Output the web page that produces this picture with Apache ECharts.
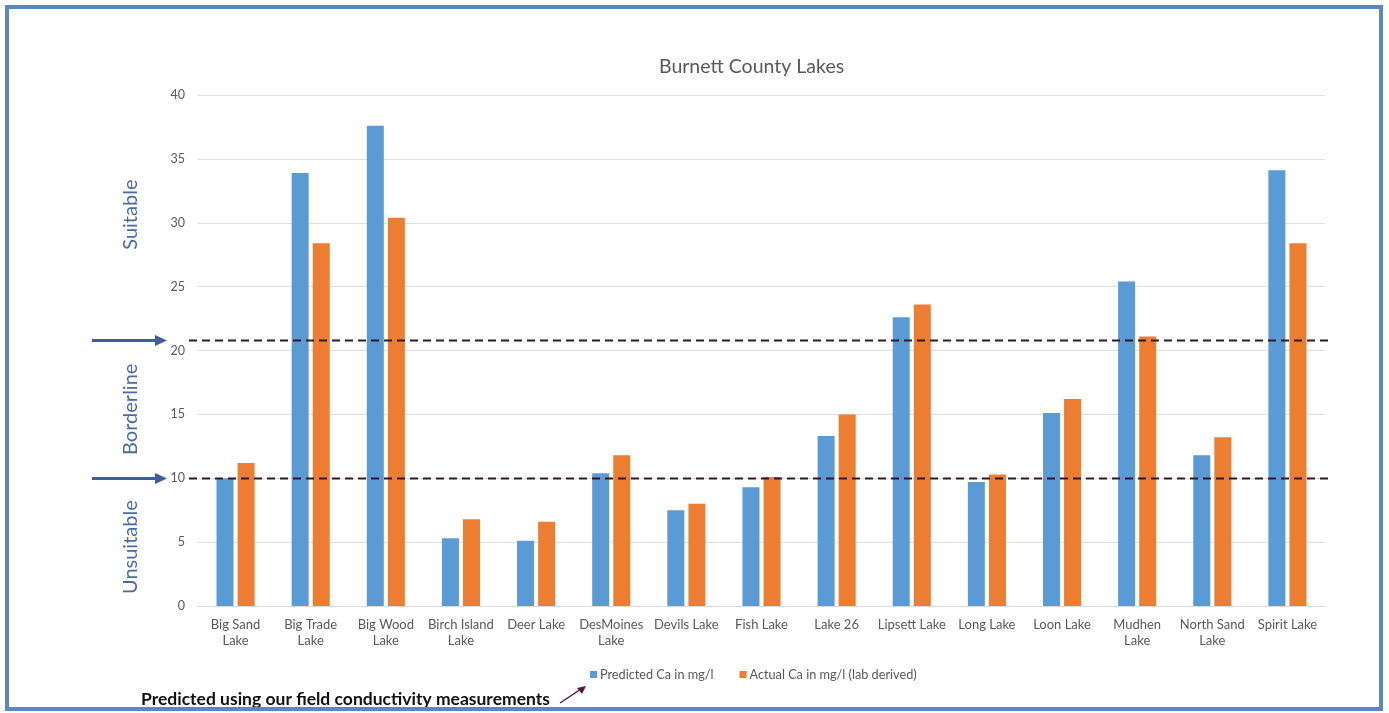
<!DOCTYPE html>
<html>
<head>
<meta charset="utf-8">
<title>Burnett County Lakes</title>
<script src="https://cdn.jsdelivr.net/npm/echarts@6/dist/echarts.min.js"></script>
<style>
  html, body { margin: 0; padding: 0; background: #ffffff; }
  #chart { width: 1389px; height: 713px; }
</style>
</head>
<body>
<div id="chart"></div>
<script>
// Lake names (line breaks where the axis label wraps)
const lakes = [
  'Big Sand\nLake', 'Big Trade\nLake', 'Big Wood\nLake', 'Birch Island\nLake',
  'Deer Lake', 'DesMoines\nLake', 'Devils Lake', 'Fish Lake', 'Lake 26',
  'Lipsett Lake', 'Long Lake', 'Loon Lake', 'Mudhen\nLake', 'North Sand\nLake',
  'Spirit Lake'
];

// Calcium, mg/l
const predictedCa = [10.0, 33.9, 37.6, 5.3, 5.1, 10.4, 7.5, 9.3, 13.3, 22.6, 9.7, 15.1, 25.4, 11.8, 34.1];
const actualCa    = [11.2, 28.4, 30.4, 6.8, 6.6, 11.8, 8.0, 10.1, 15.0, 23.6, 10.3, 16.2, 21.1, 13.2, 28.4];

const seriesNames = ['Predicted Ca in mg/l', 'Actual Ca in mg/l (lab derived)'];

// Suitability thresholds (mg/l) and the band names between them
const thresholds = [10, 20.8];
const bandNames = ['Unsuitable', 'Borderline', 'Suitable'];

const yTicks = { min: 0, max: 40, interval: 5 };

const FONT = 'Lato, "Open Sans", sans-serif';
const GREY = '#595959';
const BLUE = '#5b9bd5';
const ORANGE = '#ed7d31';
const BAND_COLOR = '#4a6aa5';
const ARROW_COLOR = '#3e5f9c';
const DASH_COLOR = '#33172c';

const chart = echarts.init(document.getElementById('chart'), null, { renderer: 'canvas' });

chart.setOption({
  animation: false,
  backgroundColor: '#ffffff',
  textStyle: { fontFamily: FONT },
  title: {
    text: 'Burnett County Lakes',
    left: 654,
    top: 52,
    textStyle: { fontFamily: FONT, fontSize: 19.5, fontWeight: 'normal', color: GREY }
  },
  legend: {
    data: seriesNames,
    left: 585,
    top: 663,
    icon: 'rect',
    itemWidth: 7,
    itemHeight: 7,
    itemGap: 26,
    textStyle: { fontFamily: FONT, fontSize: 12.7, color: GREY, padding: [0, 0, 0, -2] }
  },
  grid: { left: 198, right: 64, top: 95, bottom: 107, containLabel: false },
  xAxis: {
    type: 'category',
    data: lakes,
    axisLine: { lineStyle: { color: '#d9d9d9', width: 1 } },
    axisTick: { show: false },
    axisLabel: {
      interval: 0,
      margin: 11,
      fontFamily: FONT,
      fontSize: 13,
      lineHeight: 16,
      color: GREY
    }
  },
  yAxis: {
    type: 'value',
    min: yTicks.min,
    max: yTicks.max,
    interval: yTicks.interval,
    axisLine: { show: false },
    axisTick: { show: false },
    axisLabel: { fontFamily: FONT, fontSize: 12.5, color: GREY, margin: 13 },
    splitLine: { lineStyle: { color: '#e0e0e0', width: 1 } }
  },
  series: [
    {
      name: seriesNames[0],
      type: 'bar',
      data: predictedCa,
      barWidth: 17,
      barGap: '24%',
      itemStyle: { color: BLUE }
    },
    {
      name: seriesNames[1],
      type: 'bar',
      data: actualCa,
      barWidth: 17,
      barGap: '24%',
      itemStyle: { color: ORANGE }
    }
  ]
});

// Threshold lines, arrows, band names and the footnote, placed through the axes
function drawOverlay() {
  const yOf = v => chart.convertToPixel({ yAxisIndex: 0 }, v);
  const y0 = yOf(yTicks.min);
  const yTop = yOf(yTicks.max);
  const yLow = yOf(thresholds[0]);
  const yHigh = yOf(thresholds[1]);

  const elements = [];

  // dashed threshold lines
  thresholds.forEach(t => {
    const y = Math.round(yOf(t)) + 0.5;
    elements.push({
      type: 'line',
      shape: { x1: 189, y1: y, x2: 1329, y2: y },
      style: { stroke: DASH_COLOR, lineWidth: 2, lineDash: [8, 5] },
      z: 10
    });
  });

  // arrows pointing at the thresholds
  thresholds.forEach(t => {
    const y = Math.round(yOf(t)) + 0.5;
    elements.push({
      type: 'line',
      shape: { x1: 92, y1: y, x2: 157, y2: y },
      style: { stroke: ARROW_COLOR, lineWidth: 3 },
      z: 10
    });
    elements.push({
      type: 'polygon',
      shape: { points: [[155, y - 5.5], [167, y], [155, y + 5.5]] },
      style: { fill: ARROW_COLOR },
      z: 10
    });
  });

  // band names, rotated
  const bandCenters = [(y0 + yLow) / 2 + 5, (yLow + yHigh) / 2, (yHigh + yTop) / 2 - 3];
  bandNames.forEach((name, i) => {
    elements.push({
      type: 'text',
      x: 131,
      y: bandCenters[i],
      rotation: Math.PI / 2,
      style: {
        text: name,
        fontFamily: FONT,
        fontSize: 20,
        fill: BAND_COLOR,
        align: 'center',
        verticalAlign: 'middle'
      },
      z: 10
    });
  });

  // footnote about the predicted series
  elements.push({
    type: 'text',
    x: 141,
    y: 699,
    style: {
      text: 'Predicted using our field conductivity measurements',
      fontFamily: FONT,
      fontSize: 17.5,
      fontWeight: 'bold',
      fill: '#111111',
      align: 'left',
      verticalAlign: 'middle'
    },
    z: 10
  });
  elements.push({
    type: 'line',
    shape: { x1: 560, y1: 703, x2: 581, y2: 689 },
    style: { stroke: '#4a1d44', lineWidth: 1.5 },
    z: 10
  });
  elements.push({
    type: 'polygon',
    shape: { points: [[586, 686], [577, 688], [582, 694]] },
    style: { fill: '#4a1d44' },
    z: 10
  });

  // frame around the figure
  elements.push({
    type: 'rect',
    shape: { x: 7, y: 7, width: 1374, height: 702 },
    style: { fill: 'none', stroke: '#5b86c2', lineWidth: 4 },
    z: 20
  });

  chart.setOption({ graphic: { elements: elements } });
}

drawOverlay();
</script>
</body>
</html>
